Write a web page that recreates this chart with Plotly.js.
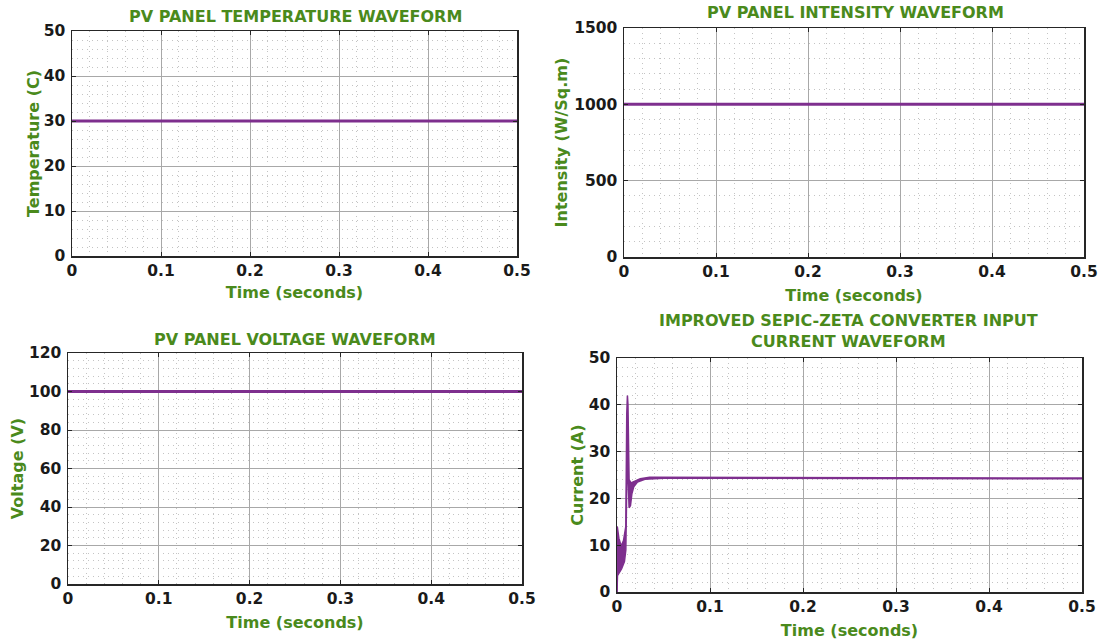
<!DOCTYPE html>
<html>
<head>
<meta charset="utf-8">
<script src="https://cdn.plot.ly/plotly-3.0.1.min.js"></script>
<style>html,body{margin:0;padding:0;background:#fff;}#chart{width:1105px;height:641px;}</style>
</head>
<body>
<div id="chart"></div>
<script>
// ---- data ----
const timeConst = [0, 0.5];
const temperature = [30, 30];
const intensity = [1000, 1000];
const voltage = [100, 100];

// input current: lower and upper envelope of the ripple band (t, A)
const currUpperT = [0, 0.0003, 0.002, 0.0045, 0.007, 0.0085, 0.0095, 0.0105, 0.0112, 0.0118, 0.0125, 0.013, 0.015, 0.02, 0.025, 0.035, 0.05, 0.1, 0.2, 0.3, 0.4, 0.5];
const currUpper  = [0, 14, 11.5, 9.8, 11, 12.5, 14, 38, 42, 40, 26, 24, 23.3, 23.8, 24.2, 24.5, 24.5, 24.45, 24.4, 24.4, 24.35, 24.35];
const currLowerT = [0, 0.0005, 0.002, 0.005, 0.008, 0.0095, 0.011, 0.0125, 0.013, 0.0145, 0.016, 0.018, 0.022, 0.03, 0.05, 0.1, 0.2, 0.3, 0.4, 0.5];
const currLower  = [0, 3.5, 4, 5, 6.5, 9, 30, 20, 18, 18.5, 21, 22.5, 23.5, 24.1, 24.3, 24.3, 24.25, 24.25, 24.2, 24.2];

const xTicks = [0, 0.1, 0.2, 0.3, 0.4, 0.5];

// ---- styling ----
const W = 1105, H = 641;
const purple = '#7e2f8e';
const green = '#4a8a1c';
const font = 'DejaVu Sans, Verdana, sans-serif';
const tickSize = 15.5, titleSize = 16;
const fx = p => p / W;
const fy = p => 1 - p / H;

const minorStyle = {showgrid: true, gridcolor: '#c4c4c4', griddash: '1px,4px', gridwidth: 1, ticks: ''};

function xaxis(l, r, anchor, standoff) {
  return {
    domain: [fx(l), fx(r)], anchor: anchor, range: [0, 0.5],
    tickvals: xTicks, ticktext: xTicks.map(v => String(v)),
    showline: true, mirror: 'ticks', linecolor: '#262626', linewidth: 1.5,
    ticks: 'inside', ticklen: 4, tickcolor: '#262626',
    showgrid: true, gridcolor: '#a8a8a8', gridwidth: 1,
    minor: Object.assign({dtick: 0.02}, minorStyle),
    zeroline: false,
    tickfont: {family: font, size: tickSize, color: '#1a1a1a', weight: 'bold'},
    title: {text: 'Time (seconds)', standoff: standoff, font: {family: font, size: titleSize, color: green, weight: 'bold'}}
  };
}
function yaxis(t, b, anchor, range, dtick, minor, title, standoff) {
  return {
    domain: [fy(b), fy(t)], anchor: anchor, range: range, dtick: dtick,
    showline: true, mirror: 'ticks', linecolor: '#262626', linewidth: 1.5,
    ticks: 'inside', ticklen: 4, tickcolor: '#262626',
    showgrid: true, gridcolor: '#a8a8a8', gridwidth: 1,
    minor: Object.assign({dtick: minor}, minorStyle),
    zeroline: false, ticklabelstandoff: 2,
    tickfont: {family: font, size: tickSize, color: '#1a1a1a', weight: 'bold'},
    title: {text: title, standoff: standoff, font: {family: font, size: titleSize, color: green, weight: 'bold'}}
  };
}

const lineStyle = {color: purple, width: 3};
const traces = [
  {x: timeConst, y: temperature, xaxis: 'x', yaxis: 'y', mode: 'lines', line: lineStyle},
  {x: timeConst, y: intensity, xaxis: 'x2', yaxis: 'y2', mode: 'lines', line: lineStyle},
  {x: timeConst, y: voltage, xaxis: 'x3', yaxis: 'y3', mode: 'lines', line: lineStyle},
  {x: currLowerT, y: currLower, xaxis: 'x4', yaxis: 'y4', mode: 'lines', line: {color: purple, width: 1.5}},
  {x: currUpperT, y: currUpper, xaxis: 'x4', yaxis: 'y4', mode: 'lines', line: {color: purple, width: 1.5}, fill: 'tonexty', fillcolor: purple}
];

function ann(text, x, y) {
  return {text: text, x: fx(x), y: fy(y), xref: 'paper', yref: 'paper', showarrow: false,
    xanchor: 'center', yanchor: 'middle', font: {family: font, size: titleSize, color: green, weight: 'bold'}};
}

const layout = {
  width: W, height: H, margin: {l: 0, r: 0, t: 0, b: 0},
  paper_bgcolor: '#fff', plot_bgcolor: '#fff', showlegend: false,
  xaxis: xaxis(72, 517, 'y', 7),
  yaxis: yaxis(31, 256, 'x', [0, 50], 10, 2, 'Temperature (C)', 0),
  xaxis2: xaxis(624, 1084, 'y2', 9),
  yaxis2: yaxis(28, 257, 'x2', [0, 1500], 500, 100, 'Intensity (W/Sq.m)', 2),
  xaxis3: xaxis(68, 522, 'y3', 9),
  yaxis3: yaxis(353, 584, 'x3', [0, 120], 20, 4, 'Voltage (V)', 1),
  xaxis4: xaxis(617, 1082, 'y4', 9),
  yaxis4: yaxis(358, 592, 'x4', [0, 50], 10, 2, 'Current (A)', 1),
  annotations: [
    ann('PV PANEL TEMPERATURE WAVEFORM', 295, 17),
    ann('PV PANEL INTENSITY WAVEFORM', 855, 13),
    ann('PV PANEL VOLTAGE WAVEFORM', 295, 339),
    ann('IMPROVED SEPIC-ZETA CONVERTER INPUT<br>CURRENT WAVEFORM', 848, 331)
  ]
};

Plotly.newPlot('chart', traces, layout, {displayModeBar: false, staticPlot: true});
</script>
</body>
</html>
